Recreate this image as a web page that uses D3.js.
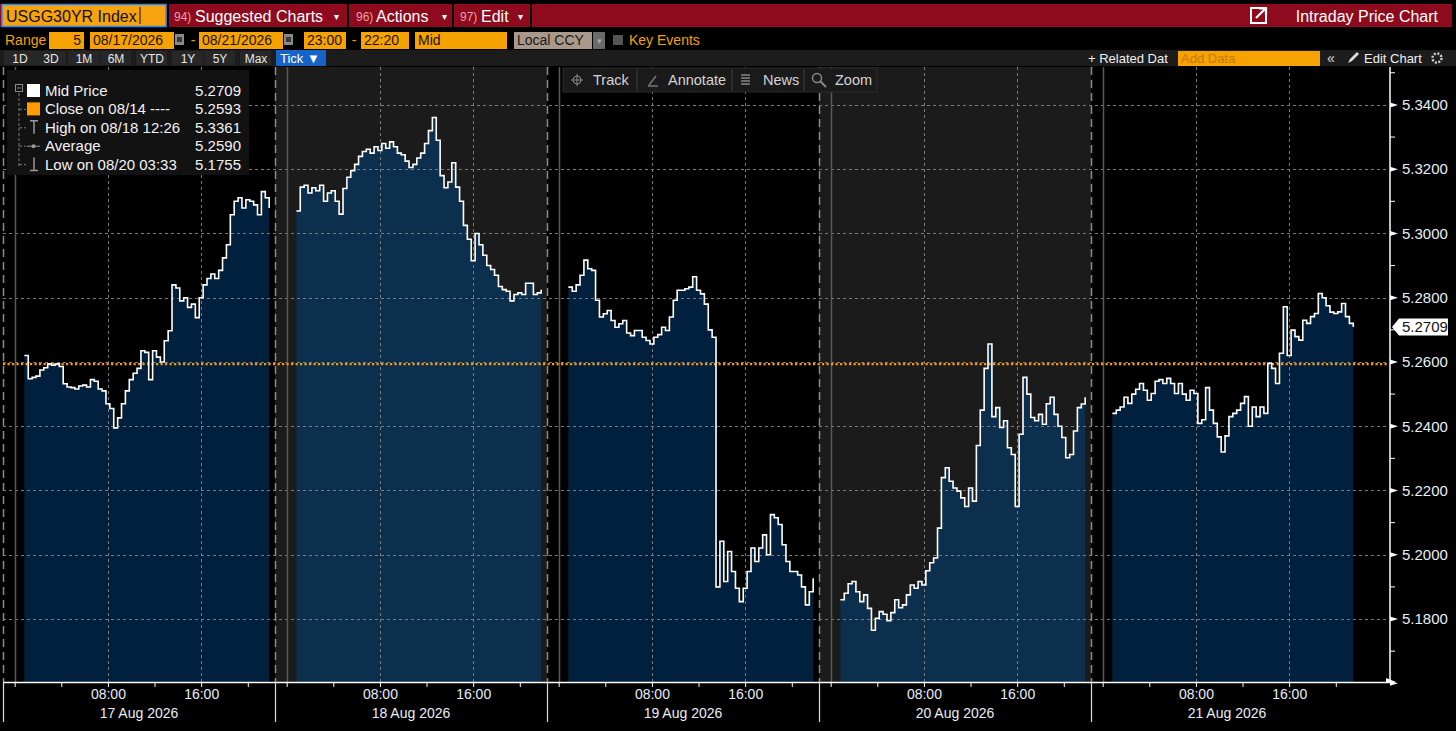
<!DOCTYPE html>
<html>
<head>
<meta charset="utf-8">
<script src="https://cdn.jsdelivr.net/npm/d3@7"></script>
<style>
body { margin: 0; background: #000; overflow: hidden; }
svg text { font-family: "Liberation Sans", Arial, sans-serif; }
</style>
</head>
<body>
<svg id="vis" width="1456" height="731"></svg>
<script>
// sampled mid price, one value every 20 minutes of each session
const times = ["00:50","01:10","01:30","01:50","02:10","02:30","02:50","03:10","03:30","03:50",
  "04:10","04:30","04:50","05:10","05:30","05:50","06:10","06:30","06:50","07:10",
  "07:30","07:50","08:10","08:30","08:50","09:10","09:30","09:50","10:10","10:30",
  "10:50","11:10","11:30","11:50","12:10","12:30","12:50","13:10","13:30","13:50",
  "14:10","14:30","14:50","15:10","15:30","15:50","16:10","16:30","16:50","17:10",
  "17:30","17:50","18:10","18:30","18:50","19:10","19:30","19:50","20:10","20:30",
  "20:50","21:10","21:30","21:50"];

const days = ["2026-08-17", "2026-08-18", "2026-08-19", "2026-08-20", "2026-08-21"];
const dayLabels = ["17 Aug 2026", "18 Aug 2026", "19 Aug 2026", "20 Aug 2026", "21 Aug 2026"];

const aug17 = [5.2620, 5.2548, 5.2552, 5.2556, 5.2575, 5.2582, 5.2594, 5.2590, 5.2594, 5.2586,
  5.2532, 5.2522, 5.2520, 5.2516, 5.2525, 5.2528, 5.2522, 5.2545, 5.2540, 5.2516,
  5.2510, 5.2470, 5.2455, 5.2395, 5.2426, 5.2470, 5.2510, 5.2545, 5.2565, 5.2580,
  5.2635, 5.2630, 5.2545, 5.2635, 5.2615, 5.2600, 5.2666, 5.2697, 5.2840, 5.2830,
  5.2790, 5.2800, 5.2770, 5.2780, 5.2738, 5.2800, 5.2840, 5.2860, 5.2874, 5.2860,
  5.2885, 5.2924, 5.2965, 5.3058, 5.3100, 5.3111, 5.3079, 5.3105, 5.3100, 5.3089,
  5.3058, 5.3130, 5.3111, 5.3079];
const aug18 = [5.3070, 5.3144, 5.3150, 5.3126, 5.3142, 5.3133, 5.3150, 5.3100, 5.3126, 5.3133,
  5.3100, 5.3060, 5.3140, 5.3175, 5.3195, 5.3215, 5.3240, 5.3255, 5.3262, 5.3250,
  5.3270, 5.3258, 5.3280, 5.3265, 5.3285, 5.3270, 5.3250, 5.3245, 5.3225, 5.3205,
  5.3215, 5.3235, 5.3250, 5.3280, 5.3320, 5.3361, 5.3290, 5.3180, 5.3142, 5.3160,
  5.3220, 5.3144, 5.3100, 5.3025, 5.2982, 5.2915, 5.3000, 5.2965, 5.2932, 5.2900,
  5.2888, 5.2870, 5.2835, 5.2825, 5.2820, 5.2790, 5.2810, 5.2815, 5.2810, 5.2845,
  5.2845, 5.2810, 5.2815, 5.2825];
const aug19 = [5.2833, 5.2820, 5.2840, 5.2870, 5.2917, 5.2890, 5.2885, 5.2792, 5.2740, 5.2750,
  5.2760, 5.2729, 5.2708, 5.2719, 5.2729, 5.2690, 5.2682, 5.2698, 5.2698, 5.2677,
  5.2667, 5.2656, 5.2677, 5.2685, 5.2708, 5.2698, 5.2740, 5.2792, 5.2823, 5.2823,
  5.2828, 5.2833, 5.2865, 5.2823, 5.2812, 5.2780, 5.2700, 5.2677, 5.1900, 5.2042,
  5.1917, 5.2010, 5.1948, 5.1896, 5.1854, 5.1896, 5.1948, 5.2021, 5.1979, 5.2021,
  5.2062, 5.2000, 5.2125, 5.2115, 5.2094, 5.2031, 5.1979, 5.1948, 5.1948, 5.1937,
  5.1900, 5.1844, 5.1885, 5.1927];
const aug20 = [5.1860, 5.1880, 5.1910, 5.1917, 5.1885, 5.1854, 5.1875, 5.1833, 5.1765, 5.1802,
  5.1823, 5.1815, 5.1795, 5.1820, 5.1860, 5.1835, 5.1844, 5.1875, 5.1906, 5.1896,
  5.1917, 5.1906, 5.1950, 5.1975, 5.1990, 5.2083, 5.2240, 5.2271, 5.2229, 5.2208,
  5.2198, 5.2177, 5.2150, 5.2208, 5.2167, 5.2340, 5.2450, 5.2580, 5.2656, 5.2430,
  5.2458, 5.2396, 5.2417, 5.2333, 5.2312, 5.2150, 5.2375, 5.2552, 5.2500, 5.2427,
  5.2417, 5.2437, 5.2406, 5.2470, 5.2490, 5.2437, 5.2400, 5.2365, 5.2302, 5.2312,
  5.2385, 5.2458, 5.2469, 5.2490];
const aug21 = [5.2440, 5.2450, 5.2460, 5.2490, 5.2471, 5.2500, 5.2515, 5.2533, 5.2512, 5.2481,
  5.2502, 5.2540, 5.2545, 5.2533, 5.2549, 5.2533, 5.2502, 5.2533, 5.2500, 5.2481,
  5.2512, 5.2502, 5.2409, 5.2420, 5.2520, 5.2450, 5.2409, 5.2367, 5.2320, 5.2370,
  5.2430, 5.2440, 5.2450, 5.2471, 5.2492, 5.2400, 5.2460, 5.2430, 5.2460, 5.2440,
  5.2596, 5.2580, 5.2533, 5.2627, 5.2772, 5.2620, 5.2699, 5.2679, 5.2668, 5.2730,
  5.2720, 5.2741, 5.2751, 5.2813, 5.2800, 5.2775, 5.2755, 5.2751, 5.2756, 5.2782,
  5.2741, 5.2720, 5.2709];

const series = [aug17, aug18, aug19, aug20, aug21];
const prevClose = 5.2593;
const yTicks = [5.18, 5.20, 5.22, 5.24, 5.26, 5.28, 5.30, 5.32, 5.34];
const yMinor = [5.16, 5.17, 5.19, 5.21, 5.23, 5.25, 5.27, 5.29, 5.31, 5.33, 5.35];
const xTickHours = [0, 4, 8, 12, 16, 20];
const xLabelHours = [8, 16];

const legendLabels = ["Mid Price", "Close on 08/14 ----", "High on 08/18 12:26", "Average", "Low on 08/20 03:33"];
const legendValues = ["5.2709", "5.2593", "5.3361", "5.2590", "5.1755"];

const svg = d3.select("#vis");
const plotTop = 67, plotBottom = 682, plotLeft = 3, axisX = 1390, dayW = 272;
const sessionMin = 1400; // 23:00 -> 22:20

const parse = d3.timeParse("%Y-%m-%d %H:%M");
const y = d3.scaleLinear().domain([5.1604, 5.3518]).range([plotBottom, plotTop]);

let xs = days.map((d, i) => {
    let start = d3.timeHour.offset(parse(d + " 00:00"), -1);
    return d3.scaleTime()
        .domain([start, d3.timeMinute.offset(start, sessionMin)])
        .range([plotLeft + i * dayW, plotLeft + (i + 1) * dayW]);
});

function txt(g, x, yy, s, size, fill, anchor) {
    return g.append("text").attr("x", x).attr("y", yy).text(s)
        .attr("font-size", size).attr("fill", fill).attr("text-anchor", anchor || "start");
}

// ---------- header rows ----------
let hdr = svg.append("g");
hdr.append("rect").attr("x", 0).attr("y", 4).attr("width", 1452).attr("height", 23).attr("fill", "#8e0a1d");
hdr.append("rect").attr("x", 2).attr("y", 4.5).attr("width", 164).attr("height", 22)
    .attr("fill", "#f6a30f").attr("stroke", "#2a8cff").attr("stroke-width", 1.5);
txt(hdr, 6, 21.5, "USGG30YR Index", 16, "#111");
hdr.append("line").attr("x1", 140).attr("x2", 140).attr("y1", 7).attr("y2", 24).attr("stroke", "#111");
[348, 453, 531].forEach(sx => hdr.append("rect").attr("x", sx - 1).attr("y", 4).attr("width", 2).attr("height", 23).attr("fill", "#000"));
hdr.append("rect").attr("x", 167).attr("y", 4).attr("width", 2).attr("height", 23).attr("fill", "#000");
[[174, "94)", 195, "Suggested Charts", 334], [356, "96)", 376, "Actions", 442], [460, "97)", 481, "Edit", 518]].forEach(m => {
    txt(hdr, m[0], 21, m[1], 12, "#e6a0aa");
    txt(hdr, m[2], 21.5, m[3], 16, "#fff");
    txt(hdr, m[4], 20, "▾", 10, "#fff");
});
hdr.append("rect").attr("x", 1251).attr("y", 8).attr("width", 15).attr("height", 15).attr("fill", "none").attr("stroke", "#fff").attr("stroke-width", 2);
hdr.append("path").attr("d", "M1256,18 L1265,9 M1259,8.5 L1266,8.5 L1266,15").attr("stroke", "#fff").attr("stroke-width", 2.2).attr("fill", "none");
txt(hdr, 1438, 21.5, "Intraday Price Chart", 16, "#fff", "end");

// row 2
let r2 = svg.append("g");
const orange = "#f6a200";
txt(r2, 5, 45, "Range", 14, orange);
[[49, 35, "5", "end"], [90, 84, "08/17/2026"], [199, 84, "08/21/2026"], [304, 42, "23:00"], [361, 48, "22:20"], [415, 92, "Mid"]].forEach(b => {
    r2.append("rect").attr("x", b[0]).attr("y", 32).attr("width", b[1]).attr("height", 17).attr("fill", orange);
    if (b[3]) txt(r2, b[0] + b[1] - 3, 45, b[2], 14, "#1a1200", "end");
    else txt(r2, b[0] + 3, 45, b[2], 14, "#1a1200");
});
[175, 284].forEach(cx => {
    r2.append("rect").attr("x", cx).attr("y", 34).attr("width", 9).attr("height", 11).attr("fill", "#8a8a8a");
    r2.append("rect").attr("x", cx + 2).attr("y", 37).attr("width", 5).attr("height", 5).attr("fill", "#3a3a3a");
});
txt(r2, 193, 45, "-", 14, orange, "middle");
txt(r2, 354, 45, "-", 14, orange, "middle");
r2.append("rect").attr("x", 514).attr("y", 32).attr("width", 78).attr("height", 17).attr("fill", "#a8998a");
txt(r2, 517, 45, "Local CCY", 14, "#1a1a1a");
r2.append("rect").attr("x", 593).attr("y", 32).attr("width", 12).attr("height", 17).attr("fill", "#6a6a6a");
txt(r2, 599, 44, "▾", 9, "#aaa", "middle");
r2.append("rect").attr("x", 613).attr("y", 35).attr("width", 10).attr("height", 10).attr("fill", "#555");
txt(r2, 629, 45, "Key Events", 14, orange);

// row 3
let r3 = svg.append("g");
r3.append("rect").attr("x", 0).attr("y", 50).attr("width", 1456).attr("height", 16).attr("fill", "#1c1c1c");
[["1D", 20], ["3D", 51], ["1M", 84], ["6M", 116], ["YTD", 152], ["1Y", 188], ["5Y", 220], ["Max", 256]].forEach(b => {
    r3.append("rect").attr("x", b[1] - 16).attr("y", 51).attr("width", 31).attr("height", 14).attr("fill", "#272727");
    txt(r3, b[1], 62.5, b[0], 12, "#e8e8e8", "middle");
});
r3.append("rect").attr("x", 276).attr("y", 50).attr("width", 50).attr("height", 16).attr("fill", "#1763c6");
txt(r3, 280, 62.5, "Tick ▼", 13, "#fff");
txt(r3, 1088, 62.5, "+ Related Dat", 13, "#f0f0f0");
r3.append("rect").attr("x", 1178).attr("y", 51).attr("width", 142).attr("height", 15).attr("fill", orange);
txt(r3, 1181, 63, "Add Data", 13, "#c07a10");
txt(r3, 1327, 62.5, "«", 14, "#ddd");
r3.append("path").attr("d", "M1348,63 L1350,59 L1357,52 L1359,54 L1352,61 Z").attr("fill", "#ddd");
txt(r3, 1364, 62.5, "Edit Chart", 13, "#f0f0f0");
r3.append("circle").attr("cx", 1437).attr("cy", 58).attr("r", 4.5).attr("fill", "none").attr("stroke", "#ccc").attr("stroke-width", 2.5).attr("stroke-dasharray", "2,1.5");

// ---------- plot ----------
let g = svg.append("g");

// alternate session shading
[1, 3].forEach(d => {
    let r = xs[d].range();
    g.append("rect").attr("x", r[0]).attr("y", plotTop).attr("width", r[1] - r[0])
        .attr("height", plotBottom - plotTop).attr("fill", "#1b1b1b");
});

let pts = series.map((vals, d) => vals.map((v, i) => ({ t: parse(days[d] + " " + times[i]), v: v })));

pts.forEach((p, d) => {
    let x = xs[d];
    let area = d3.area().curve(d3.curveStepAfter)
        .x(q => x(q.t)).y0(plotBottom).y1(q => y(q.v));
    g.append("path").datum(p).attr("d", area)
        .attr("fill", d % 2 ? "#0c2f4e" : "#01203e");
});

// horizontal grid
g.selectAll(".hgrid").data(yTicks.concat([5.1604])).enter().append("line")
    .attr("class", "hgrid")
    .attr("x1", plotLeft).attr("x2", axisX - 1)
    .attr("y1", d => Math.round(y(d)) + 0.5).attr("y2", d => Math.round(y(d)) + 0.5)
    .attr("stroke", "#7a7a7a").attr("stroke-width", 1).attr("stroke-dasharray", "3,3");

// vertical grid at 08:00 / 16:00, session start dashes, midnight lines
xs.forEach((x, d) => {
    xLabelHours.forEach(h => {
        let gx = Math.round(x(parse(days[d] + " " + d3.format("02")(h) + ":00"))) + 0.5;
        g.append("line").attr("x1", gx).attr("x2", gx).attr("y1", plotTop).attr("y2", plotBottom)
            .attr("stroke", "#7a7a7a").attr("stroke-dasharray", "3,3");
    });
    let sx = Math.round(x.range()[0]) + 0.5;
    g.append("line").attr("x1", sx).attr("x2", sx).attr("y1", plotTop).attr("y2", plotBottom)
        .attr("stroke", "#8a8a8a").attr("stroke-width", 1.5).attr("stroke-dasharray", "8,5");
    let mx = Math.round(x(parse(days[d] + " 00:00"))) + 0.5;
    g.append("line").attr("x1", mx).attr("x2", mx).attr("y1", plotTop).attr("y2", plotBottom)
        .attr("stroke", "#5a5a5a").attr("stroke-width", 1.5);
});

// previous close
g.append("line").attr("x1", plotLeft).attr("x2", axisX - 1)
    .attr("y1", y(prevClose)).attr("y2", y(prevClose))
    .attr("stroke", "#ff9a00").attr("stroke-width", 2.2).attr("stroke-dasharray", "2.2,2.3");

// price line
pts.forEach((p, d) => {
    let x = xs[d];
    let line = d3.line().curve(d3.curveStepAfter).x(q => x(q.t)).y(q => y(q.v));
    g.append("path").datum(p).attr("d", line)
        .attr("fill", "none").attr("stroke", "#fff").attr("stroke-width", 1.6);
});

// toolbar overlay
let tb = svg.append("g");
tb.append("rect").attr("x", 563).attr("y", 68).attr("width", 314).attr("height", 24)
    .attr("fill", "#1a1a1a").attr("stroke", "#2c2c2c");
[637, 732, 804].forEach(sx => tb.append("line").attr("x1", sx).attr("x2", sx).attr("y1", 69).attr("y2", 91).attr("stroke", "#2c2c2c").attr("stroke-width", 2));
[["Track", 593], ["Annotate", 668], ["News", 763], ["Zoom", 835]].forEach(t => txt(tb, t[1], 85, t[0], 14.5, "#d4d4d4"));
tb.append("circle").attr("cx", 577).attr("cy", 80).attr("r", 4).attr("fill", "none").attr("stroke", "#888");
tb.append("path").attr("d", "M571,80 H583 M577,74 V86").attr("stroke", "#888");
tb.append("path").attr("d", "M648,86 H658 M649,85 L656,76").attr("stroke", "#777").attr("stroke-width", 1.5);
tb.append("path").attr("d", "M741,75 H750 M741,78 H750 M741,81 H750 M741,84 H750").attr("stroke", "#888").attr("stroke-width", 1.5);
tb.append("circle").attr("cx", 817).attr("cy", 78).attr("r", 4.5).attr("fill", "none").attr("stroke", "#888").attr("stroke-width", 1.5);
tb.append("path").attr("d", "M820,81 L826,87").attr("stroke", "#888").attr("stroke-width", 2);

// ---------- legend ----------
let lg = svg.append("g");
lg.append("rect").attr("x", 7).attr("y", 70).attr("width", 242).attr("height", 105).attr("fill", "#121212");
let rowY = legendLabels.map((l, i) => 96 + i * 18.4);
lg.append("rect").attr("x", 15.5).attr("y", 84.5).attr("width", 7).attr("height", 7).attr("fill", "none").attr("stroke", "#888");
lg.append("line").attr("x1", 17).attr("x2", 21).attr("y1", 88).attr("y2", 88).attr("stroke", "#888");
lg.append("line").attr("x1", 19).attr("x2", 19).attr("y1", 93).attr("y2", rowY[4] - 2)
    .attr("stroke", "#777").attr("stroke-dasharray", "3,2");
rowY.slice(1).forEach(ry => lg.append("line").attr("x1", 19).attr("x2", 26).attr("y1", ry - 5).attr("y2", ry - 5).attr("stroke", "#777").attr("stroke-dasharray", "3,2"));
lg.append("rect").attr("x", 27).attr("y", rowY[0] - 12).attr("width", 13).attr("height", 13).attr("fill", "#fff");
lg.append("rect").attr("x", 27).attr("y", rowY[1] - 12).attr("width", 13).attr("height", 13).attr("fill", "#ff9a00");
lg.append("path").attr("d", `M30,${rowY[2] - 12} H38 M34,${rowY[2] - 12} V${rowY[2] + 1}`).attr("stroke", "#999").attr("stroke-width", 1.5);
lg.append("path").attr("d", `M27,${rowY[3] - 5} H40`).attr("stroke", "#999");
lg.append("circle").attr("cx", 33.5).attr("cy", rowY[3] - 5).attr("r", 2).attr("fill", "#999");
lg.append("path").attr("d", `M34,${rowY[4] - 12} V${rowY[4] + 1} M30,${rowY[4] + 1} H38`).attr("stroke", "#999").attr("stroke-width", 1.5);
legendLabels.forEach((l, i) => {
    txt(lg, 45, rowY[i], l, 15, "#f2f2f2");
    txt(lg, 241, rowY[i], legendValues[i], 15, "#f2f2f2", "end");
});

// ---------- y axis ----------
let ya = svg.append("g").attr("transform", `translate(${axisX},0)`);
ya.call(d3.axisRight(y).tickValues(yTicks).tickSize(0).tickPadding(12).tickFormat(d3.format(".4f")));
ya.select(".domain").remove();
ya.selectAll(".tick text").attr("font-size", 15).attr("fill", "#e8eef4")
    .attr("font-family", "Liberation Sans, Arial, sans-serif");
ya.append("line").attr("x1", 0).attr("x2", 0).attr("y1", plotTop).attr("y2", plotBottom + 1).attr("stroke", "#fff").attr("stroke-width", 1.5);
ya.selectAll(".tri").data(yTicks.concat([5.16])).enter().append("path").attr("class", "tri")
    .attr("d", d => `M0,${y(d) - 2.5} L8,${y(d)} L0,${y(d) + 2.5} Z`).attr("fill", "#fff");
ya.selectAll(".minor").data(yMinor).enter().append("line").attr("class", "minor")
    .attr("x1", 0).attr("x2", 5).attr("y1", d => y(d)).attr("y2", d => y(d)).attr("stroke", "#fff");

// last price tag
const last = aug21[aug21.length - 1];
let ty = y(last);
ya.append("path").attr("d", `M2,${ty} L9,${ty - 8.5} H58 V${ty + 8.5} H9 Z`).attr("fill", "#fff");
txt(ya, 12, ty + 5.5, d3.format(".4f")(last), 15, "#111");

// ---------- x axis ----------
let xa = svg.append("g");
xa.append("line").attr("x1", plotLeft).attr("x2", axisX).attr("y1", plotBottom + 0.5).attr("y2", plotBottom + 0.5)
    .attr("stroke", "#fff").attr("stroke-width", 1.5);
xa.append("path").attr("d", `M${axisX - 4},${plotBottom - 4} L${axisX + 6},${plotBottom} L${axisX - 4},${plotBottom} Z`).attr("fill", "#fff");
xs.forEach((x, d) => {
    let ax = xa.append("g").attr("transform", `translate(0,${plotBottom})`);
    ax.call(d3.axisBottom(x)
        .tickValues(xTickHours.map(h => parse(days[d] + " " + d3.format("02")(h) + ":00")))
        .tickSize(5).tickPadding(2)
        .tickFormat(t => xLabelHours.includes(t.getHours()) ? d3.timeFormat("%H:%M")(t) : ""));
    ax.select(".domain").remove();
    ax.selectAll(".tick line").attr("stroke", "#fff");
    ax.selectAll(".tick text").attr("font-size", 14).attr("fill", "#e8eef4")
        .attr("font-family", "Liberation Sans, Arial, sans-serif");
    let r = x.range();
    xa.append("line").attr("x1", Math.round(r[0]) + 0.5).attr("x2", Math.round(r[0]) + 0.5)
        .attr("y1", plotBottom).attr("y2", 722).attr("stroke", "#ddd").attr("stroke-width", 1.2);
    txt(xa, (r[0] + r[1]) / 2, 718, dayLabels[d], 14, "#e8eef4", "middle");
});
</script>
</body>
</html>
